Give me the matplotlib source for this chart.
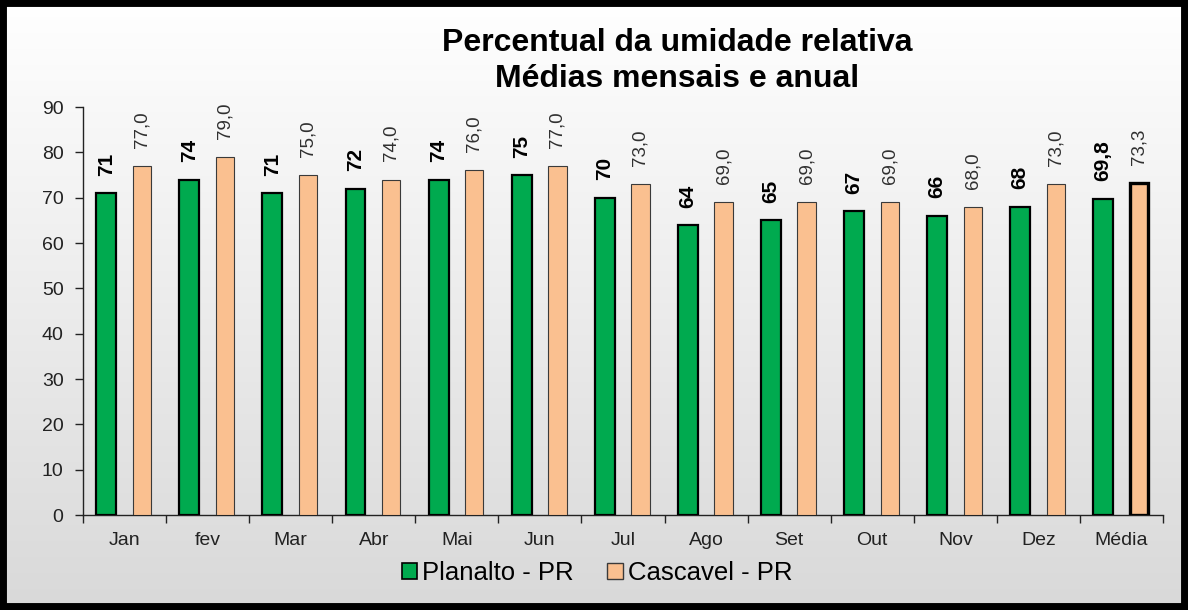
import numpy as np
import matplotlib.pyplot as plt
from matplotlib.patches import Rectangle

plt.rcParams["font.family"] = ["Liberation Sans", "DejaVu Sans"]

months = ["Jan", "fev", "Mar", "Abr", "Mai", "Jun", "Jul", "Ago", "Set",
          "Out", "Nov", "Dez", "Média"]
planalto = [71, 74, 71, 72, 74, 75, 70, 64, 65, 67, 66, 68, 69.8]
cascavel = [77.0, 79.0, 75.0, 74.0, 76.0, 77.0, 73.0, 69.0, 69.0, 69.0, 68.0, 73.0, 73.3]
yticks = [0, 10, 20, 30, 40, 50, 60, 70, 80, 90]

GREEN = "#00AA4F"
TAN = "#FAC090"

fig = plt.figure(figsize=(11.88, 6.10), dpi=100)

# gradient background, white on top to light grey at the bottom
bg = fig.add_axes([0, 0, 1, 1], zorder=-10)
grad = np.linspace(1.0, 0.85, 256)[:, None]
bg.imshow(np.dstack([grad] * 3), aspect="auto", extent=[0, 1, 0, 1])
bg.set_axis_off()

ax = fig.add_axes([83 / 1188, 1 - 515 / 610, 1080 / 1188, 408 / 610])
ax.set_facecolor("none")

x = np.arange(len(months))
ax.bar(x - 0.22, planalto, width=0.24, color=GREEN, edgecolor="black",
       linewidth=1.6, zorder=3)
edges = ["#3a3a3a"] * (len(months) - 1) + ["black"]
widths = [0.8] * (len(months) - 1) + [2.4]
ax.bar(x + 0.21, cascavel, width=0.22, color=TAN, edgecolor=edges,
       linewidth=widths, zorder=3)

for i, (p, c) in enumerate(zip(planalto, cascavel)):
    ptxt = f"{p:g}".replace(".", ",")
    ax.annotate(ptxt, (i - 0.22, p), xytext=(0, 12.5), textcoords="offset points",
                rotation=90, ha="center", va="bottom", fontsize=15,
                fontweight="bold", color="black")
    ax.annotate(f"{c:.1f}".replace(".", ","), (i + 0.21, c), xytext=(0, 13),
                textcoords="offset points", rotation=90, ha="center",
                va="bottom", fontsize=13.5, color="#303030")

ax.set_xlim(-0.5, len(months) - 0.5)
ax.set_ylim(0, 90)
ax.set_yticks(yticks)
ax.set_xticks(x)
ax.set_xticklabels(months)
ax.set_xticks(np.arange(len(months) + 1) - 0.5, minor=True)
ax.tick_params(axis="x", which="major", length=0, pad=12, labelsize=14,
               labelcolor="#222222")
ax.tick_params(axis="x", which="minor", length=6, width=1, color="#222222")
ax.tick_params(axis="y", length=6, width=1, labelsize=14, pad=8,
               labelcolor="#222222", color="#222222")
ax.spines[["top", "right"]].set_visible(False)
ax.spines[["left", "bottom"]].set_linewidth(1)
ax.spines[["left", "bottom"]].set_color("#222222")

fig.text(677 / 1188, 1 - 61 / 610,
         "Percentual da umidade relativa\nMédias mensais e anual",
         ha="center", va="center", fontsize=23, fontweight="bold",
         linespacing=1.27)

h1 = Rectangle((0, 0), 1, 1, facecolor=GREEN, edgecolor="black", linewidth=1.2)
h2 = Rectangle((0, 0), 1, 1, facecolor=TAN, edgecolor="#3a3a3a", linewidth=1.0)
fig.legend([h1, h2], ["Planalto - PR", "Cascavel - PR"], loc="center",
           bbox_to_anchor=(597 / 1188, 1 - 573 / 610), ncol=2, frameon=False,
           fontsize=18.5, handlelength=0.6, handleheight=0.6, handletextpad=0.2,
           columnspacing=1.3)

fig.add_artist(Rectangle((0, 0), 1, 1, transform=fig.transFigure, fill=False,
                         edgecolor="black", linewidth=10, zorder=20))

fig.savefig("out.png", dpi=100)
